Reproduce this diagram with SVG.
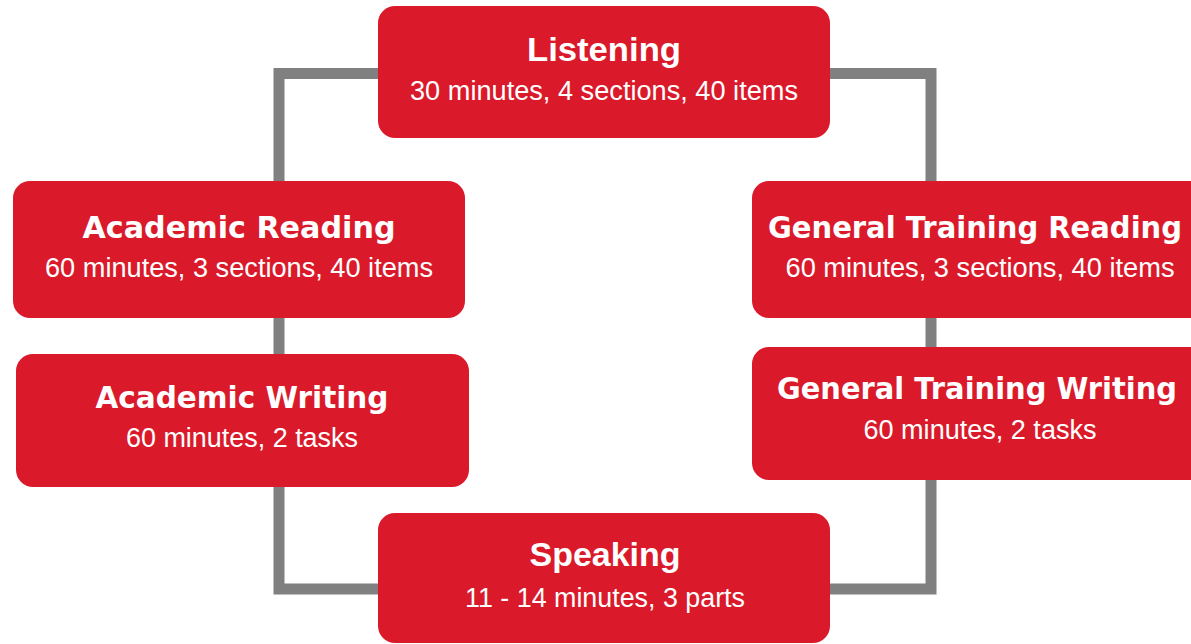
<svg xmlns="http://www.w3.org/2000/svg" width="1191" height="644" viewBox="0 0 1191 644">
<style>
.box{fill:#DA1A2A}
.t{fill:#fff;font-family:"DejaVu Sans","Liberation Sans",sans-serif;font-weight:bold;font-size:31px;text-anchor:middle}
.tn{fill:#fff;font-family:"Liberation Sans",Arial,sans-serif;font-weight:bold;font-size:34px;text-anchor:middle}
.s{fill:#fff;font-family:"Liberation Sans",Arial,sans-serif;font-size:27px;text-anchor:middle}
.c{fill:none;stroke:#808080;stroke-width:11;stroke-linejoin:miter}
</style>
<rect width="1191" height="644" fill="#fff"/>
<g id="connectors">
<path class="c" d="M279 73.5 H931 V589 H279 Z"/>
</g>
<g id="listening">
<rect class="box" x="378" y="6" width="452" height="132" rx="17"/>
<text class="tn" x="604" y="61" textLength="154" lengthAdjust="spacingAndGlyphs">Listening</text>
<text class="s" x="604" y="100" textLength="388" lengthAdjust="spacingAndGlyphs">30 minutes, 4 sections, 40 items</text>
</g>
<g id="academic-reading">
<rect class="box" x="13" y="181" width="452" height="137" rx="17"/>
<text class="t" x="239" y="238" textLength="313" lengthAdjust="spacingAndGlyphs">Academic Reading</text>
<text class="s" x="239" y="277" textLength="388" lengthAdjust="spacingAndGlyphs">60 minutes, 3 sections, 40 items</text>
</g>
<g id="academic-writing">
<rect class="box" x="16" y="354" width="453" height="133" rx="17"/>
<text class="t" x="242" y="408" textLength="293" lengthAdjust="spacingAndGlyphs">Academic Writing</text>
<text class="s" x="242" y="447" textLength="232" lengthAdjust="spacingAndGlyphs">60 minutes, 2 tasks</text>
</g>
<g id="gt-reading">
<rect class="box" x="752" y="181" width="460" height="137" rx="17"/>
<text class="t" x="975" y="238" textLength="414" lengthAdjust="spacingAndGlyphs">General Training Reading</text>
<text class="s" x="980" y="277" textLength="389" lengthAdjust="spacingAndGlyphs">60 minutes, 3 sections, 40 items</text>
</g>
<g id="gt-writing">
<rect class="box" x="752" y="347" width="460" height="133" rx="17"/>
<text class="t" x="977" y="399" textLength="400" lengthAdjust="spacingAndGlyphs">General Training Writing</text>
<text class="s" x="980" y="439" textLength="233" lengthAdjust="spacingAndGlyphs">60 minutes, 2 tasks</text>
</g>
<g id="speaking">
<rect class="box" x="378" y="513" width="452" height="130" rx="17"/>
<text class="tn" x="605" y="566" textLength="151" lengthAdjust="spacingAndGlyphs">Speaking</text>
<text class="s" x="605" y="607" textLength="280" lengthAdjust="spacingAndGlyphs">11 - 14 minutes, 3 parts</text>
</g>
</svg>
